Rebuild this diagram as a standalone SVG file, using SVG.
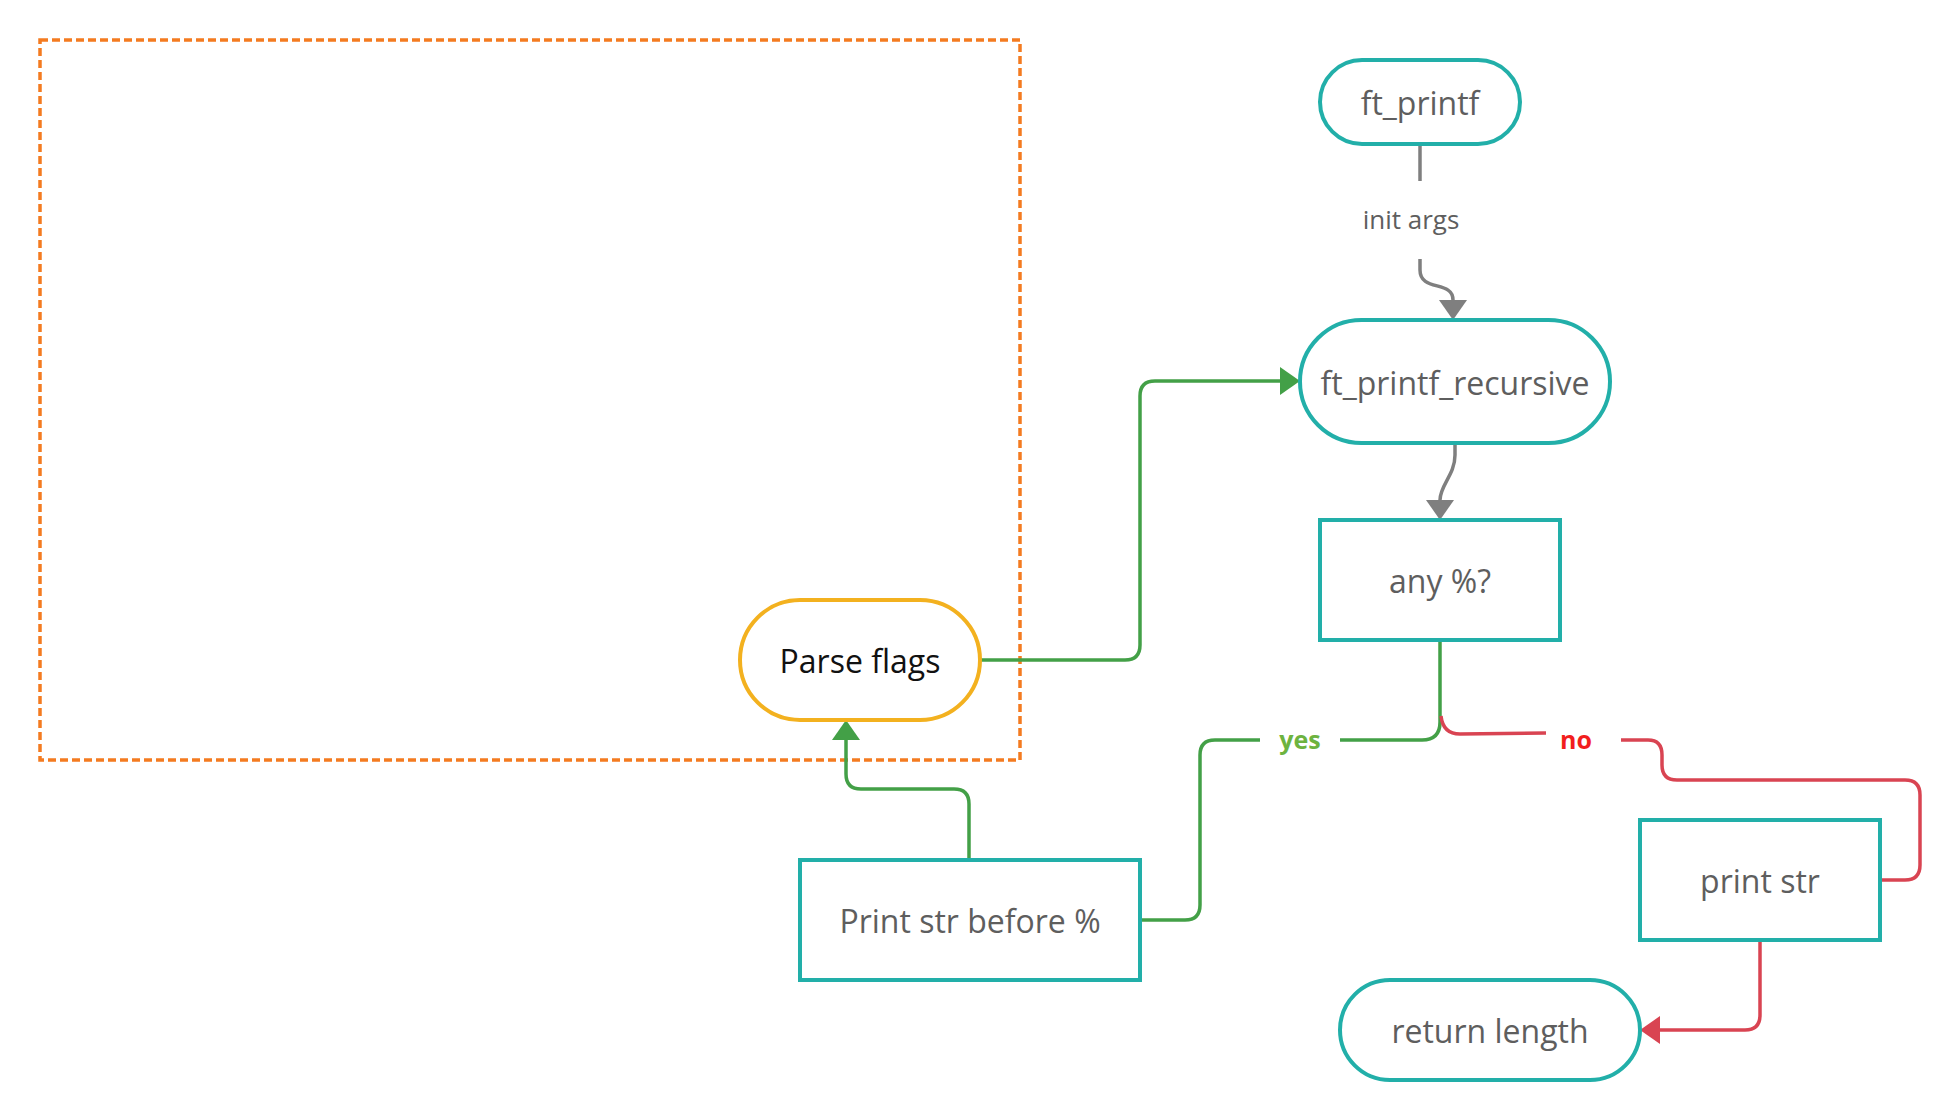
<svg xmlns="http://www.w3.org/2000/svg" width="1960" height="1120" viewBox="0 0 1960 1120">
<style>
.t{fill:#fff;stroke:#22AFA9;stroke-width:4}
.lbl{font-family:"Open Sans","Noto Sans",sans-serif;font-size:32px;fill:#5E5E5E;text-anchor:middle}
.c{fill:none;stroke-width:3.5;stroke-linecap:butt;stroke-linejoin:round}
.g{stroke:#43A047}
.r{stroke:#D94452}
.k{stroke:#7F7F7F}
.el{font-family:"Open Sans","Noto Sans",sans-serif;text-anchor:middle}
</style>
<defs>
<marker id="ak" markerUnits="userSpaceOnUse" markerWidth="20" markerHeight="28" viewBox="0 0 20 28" refX="0" refY="14" orient="auto"><path d="M0,0 L20,14 L0,28 Z" fill="#7F7F7F"/></marker>
<marker id="ag" markerUnits="userSpaceOnUse" markerWidth="20" markerHeight="28" viewBox="0 0 20 28" refX="0" refY="14" orient="auto"><path d="M0,0 L20,14 L0,28 Z" fill="#43A047"/></marker>
<marker id="ar" markerUnits="userSpaceOnUse" markerWidth="20" markerHeight="28" viewBox="0 0 20 28" refX="0" refY="14" orient="auto"><path d="M0,0 L20,14 L0,28 Z" fill="#D94452"/></marker>
</defs>
<rect width="1960" height="1120" fill="#fff"/>
<g id="frame">
<rect x="40" y="40" width="980" height="720" fill="none" stroke="#F47B20" stroke-width="3.5" stroke-dasharray="8 4"/>
</g>
<g id="connectors">
<path class="c k" d="M1420,144 L1420,181"/>
<path class="c k" d="M1420,259 L1420,270 C1420,292 1453,280 1453,300" marker-end="url(#ak)"/>
<text class="el" x="1411" y="229" font-size="26" fill="#5E5E5E">init args</text>
<path class="c k" d="M1455,443 L1455,455 C1455,475 1440,485 1440,500" marker-end="url(#ak)"/>
<path class="c g" d="M980,660 L1125,660 Q1140,660 1140,645 L1140,396 Q1140,381 1155,381 L1280,381" marker-end="url(#ag)"/>
<path class="c g" d="M969,860 L969,804 Q969,789 954,789 L861,789 Q846,789 846,774 L846,740" marker-end="url(#ag)"/>
<path class="c g" d="M1440,640 L1440,722 Q1440,740 1422,740 L1340,740"/>
<path class="c g" d="M1260,740 L1215,740 Q1200,740 1200,755 L1200,905 Q1200,920 1185,920 L1140,920"/>
<text class="el" x="1300" y="749" font-size="25" font-weight="bold" fill="#6DB33F">yes</text>
<path class="c r" d="M1441,716 Q1443,734 1460,734 L1546,733"/>
<path class="c r" d="M1621,740 L1648,740 Q1662,740 1662,755 L1662,765 Q1662,780 1677,780 L1905,780 Q1920,780 1920,795 L1920,865 Q1920,880 1905,880 L1880,880"/>
<text class="el" x="1576" y="749" font-size="25" font-weight="bold" fill="#F21E1E">no</text>
<path class="c r" d="M1760,940 L1760,1015 Q1760,1030 1745,1030 L1660,1030" marker-end="url(#ar)"/>
</g>
<g id="ft_printf">
<rect class="t" x="1320" y="60" width="200" height="84" rx="42"/>
<text class="lbl" x="1420" y="114.5">ft_printf</text>
</g>
<g id="ft_printf_recursive">
<rect class="t" x="1300" y="320" width="310" height="123" rx="61.5"/>
<text class="lbl" x="1455" y="394.5">ft_printf_recursive</text>
</g>
<g id="any_percent">
<rect class="t" x="1320" y="520" width="240" height="120"/>
<text class="lbl" x="1440" y="592.5">any %?</text>
</g>
<g id="parse_flags">
<rect x="740" y="600" width="240" height="120" rx="60" fill="#fff" stroke="#F3B11F" stroke-width="4"/>
<text class="lbl" x="860" y="672.5" style="fill:#111">Parse flags</text>
</g>
<g id="print_before">
<rect class="t" x="800" y="860" width="340" height="120"/>
<text class="lbl" x="970" y="932.5">Print str before %</text>
</g>
<g id="print_str">
<rect class="t" x="1640" y="820" width="240" height="120"/>
<text class="lbl" x="1760" y="892.5">print str</text>
</g>
<g id="return_length">
<rect class="t" x="1340" y="980" width="300" height="100" rx="50"/>
<text class="lbl" x="1490" y="1042.5">return length</text>
</g>
</svg>
